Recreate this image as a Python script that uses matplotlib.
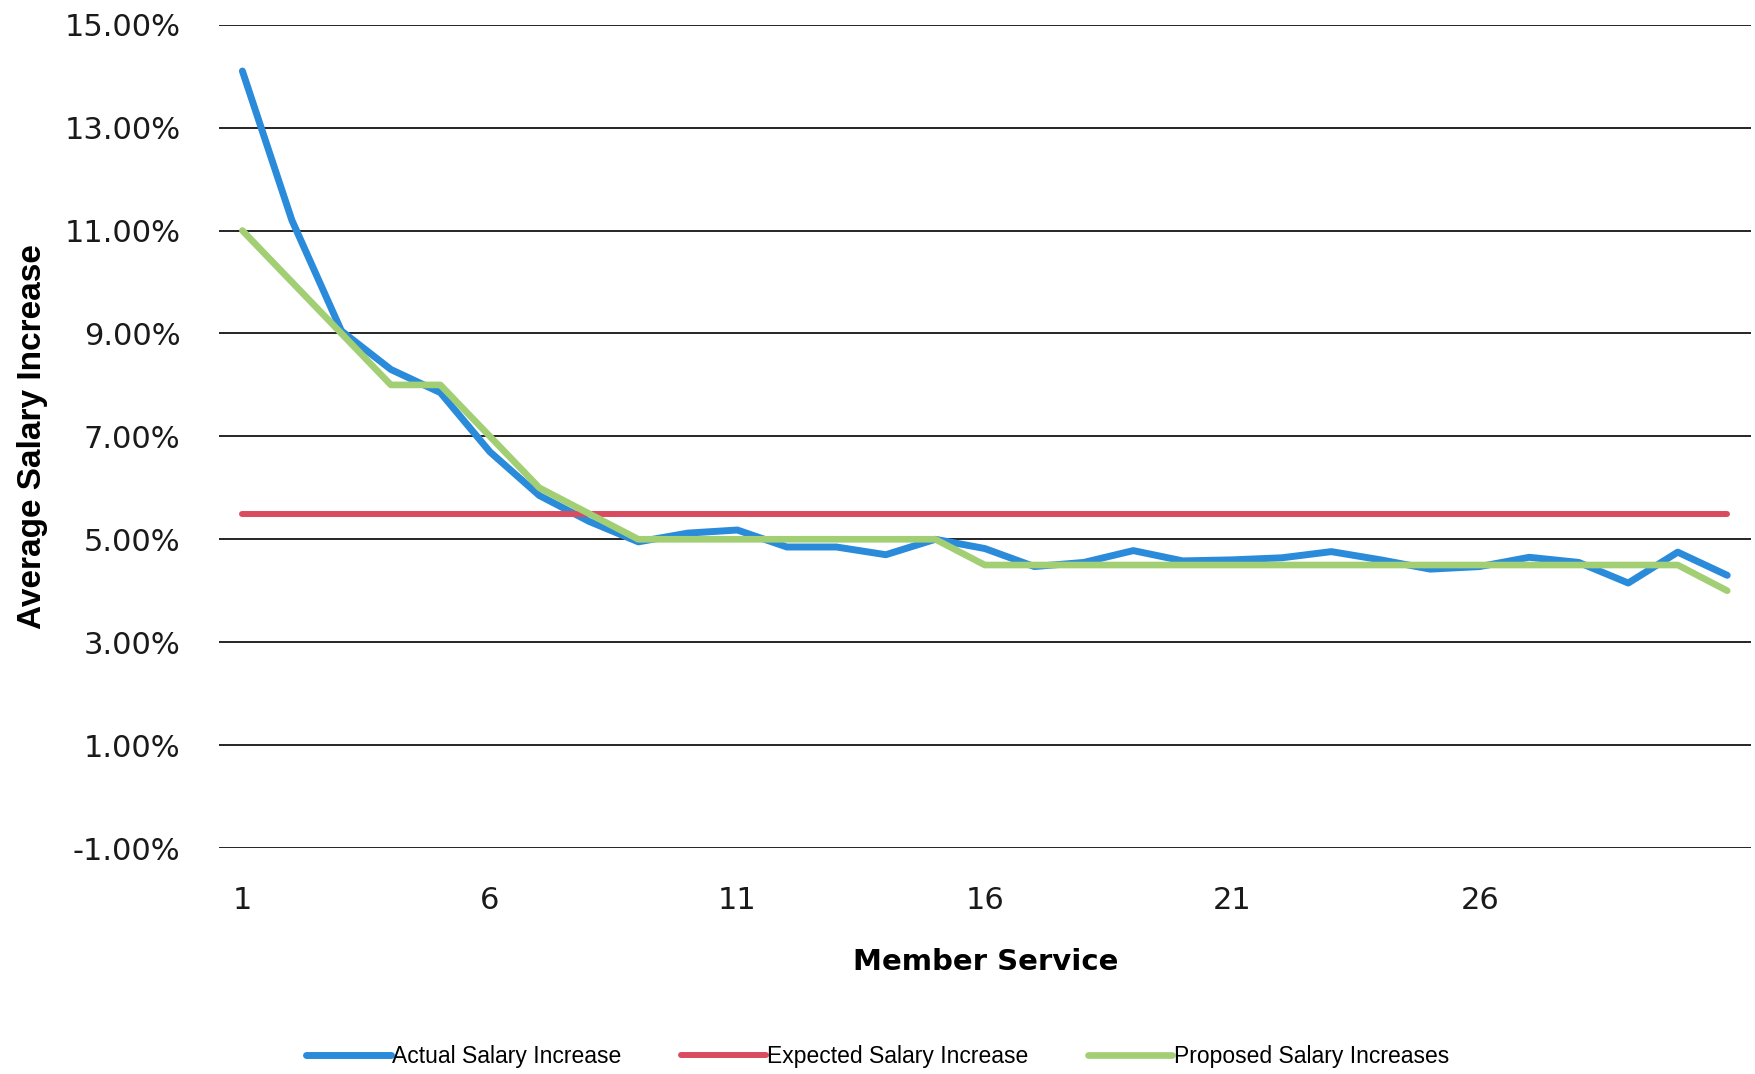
import numpy as np
import matplotlib.pyplot as plt

# years of member service
service = list(range(1, 32))

actual = [14.10, 11.20, 9.05, 8.30, 7.85, 6.70, 5.85, 5.35, 4.95, 5.12,
          5.18, 4.85, 4.85, 4.70, 5.00, 4.82, 4.47, 4.55, 4.78, 4.58,
          4.60, 4.64, 4.76, 4.60, 4.42, 4.47, 4.65, 4.55, 4.15, 4.75, 4.30]
expected = [5.50] * 31
proposed = [11.00, 10.00, 9.00, 8.00, 8.00, 7.00, 6.00, 5.50, 5.00, 5.00,
            5.00, 5.00, 5.00, 5.00, 5.00, 4.50, 4.50, 4.50, 4.50, 4.50,
            4.50, 4.50, 4.50, 4.50, 4.50, 4.50, 4.50, 4.50, 4.50, 4.50, 4.00]

y_ticks = [-1, 1, 3, 5, 7, 9, 11, 13, 15]
x_ticks = [1, 6, 11, 16, 21, 26]

fig = plt.figure(figsize=(17.55, 10.74), dpi=100)
ax = fig.add_axes([0.125, 0.2104, 0.873, 0.7666])

ax.plot(service, actual, color='#2b8bdb', lw=5, solid_capstyle='round',
        solid_joinstyle='round', label='Actual Salary Increase', zorder=3)
ax.plot(service, expected, color='#d94c60', lw=4.3, solid_capstyle='round',
        label='Expected Salary Increase', zorder=3)
ax.plot(service, proposed, color='#a2ce74', lw=4.8, solid_capstyle='round',
        solid_joinstyle='round', label='Proposed Salary Increases', zorder=4)

ax.set_ylim(-1, 15)
ax.set_xlim(0.535, 31.49)
ax.set_yticks(y_ticks)
ax.set_yticklabels([f'{v:.2f}%' for v in y_ticks])
ax.set_xticks(x_ticks)
ax.tick_params(axis='both', length=0, labelsize=22, colors='#1a1a1a')
ax.tick_params(axis='y', pad=28)
ax.tick_params(axis='x', pad=27)
ax.grid(axis='y', color='black', lw=1.2, zorder=1)
ax.grid(axis='x', visible=False)
for s in ax.spines.values():
    s.set_visible(False)

ax.set_ylabel('Average Salary Increase', family='Liberation Sans',
              fontweight='bold', fontsize=24, labelpad=12)
ax.set_xlabel('Member Service', fontweight='bold', fontsize=21, labelpad=24)

fig.legend(loc='center', bbox_to_anchor=(0.5, 0.016), ncol=3, frameon=False,
           prop={'family': 'Liberation Sans', 'size': 16.5}, handlelength=3.7,
           handletextpad=0.05, columnspacing=2.6)

fig.savefig('out.png', dpi=100)
